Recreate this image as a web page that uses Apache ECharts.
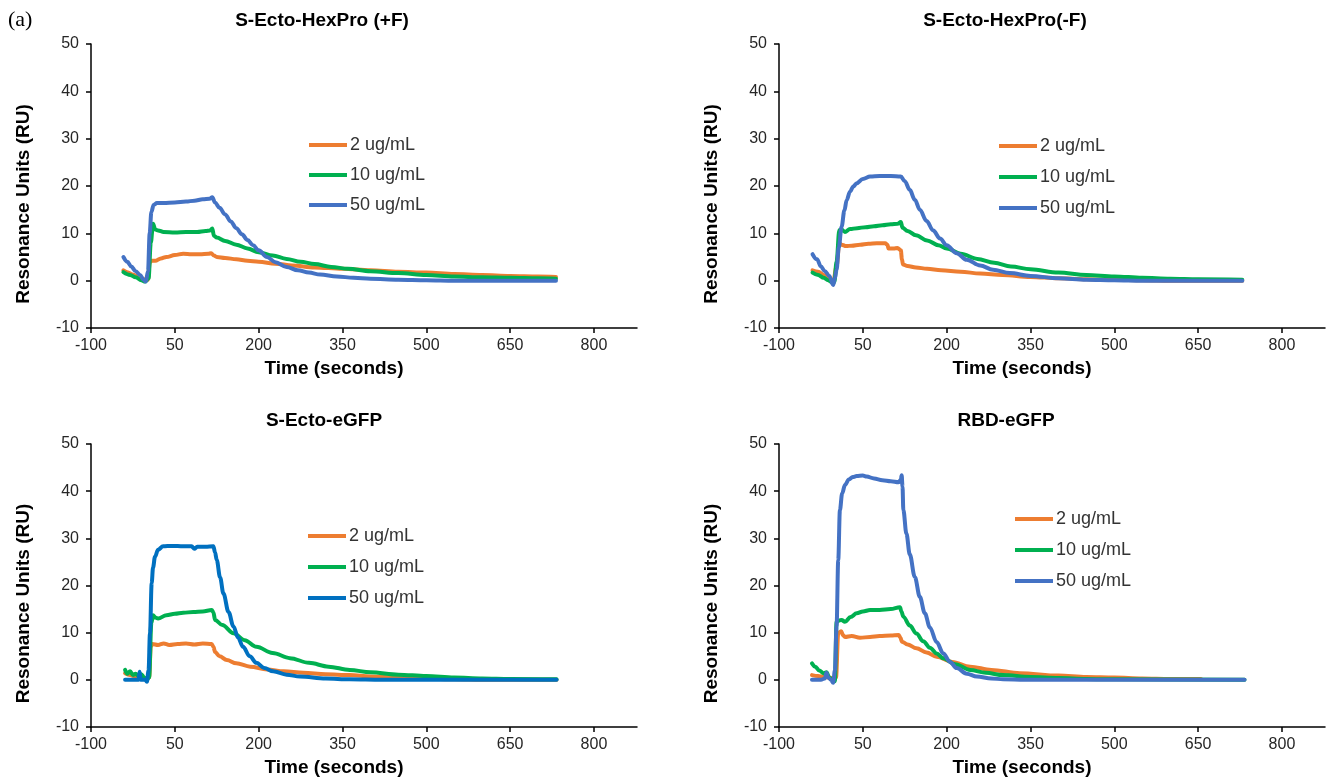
<!DOCTYPE html>
<html>
<head>
<meta charset="utf-8">
<title>SPR binding curves</title>
<script src="https://cdn.jsdelivr.net/npm/echarts@6/dist/echarts.min.js"></script>
<style>
  html, body { margin: 0; padding: 0; background: #fff; }
  #chart { width: 1337px; height: 783px; }
</style>
</head>
<body>
<div id="chart"></div>
<script>
// time ticks and RU ticks
const timeTicks = [-100, 50, 200, 350, 500, 650, 800];
const concentrations = ['2 ug/mL', '10 ug/mL', '50 ug/mL'];
const panelTitles = ['S-Ecto-HexPro (+F)', 'S-Ecto-HexPro(-F)', 'S-Ecto-eGFP', 'RBD-eGFP'];

// [time (s), response (RU)]
const plusF2 = [[-42, 2.2], [-35, 1.8], [-25, 1.3], [-15, 0.8], [-5, 0.3], [2, 0.2], [5, 3.8], [8, 4.2], [15, 4.2], [25, 4.7], [35, 5.0], [50, 5.4], [65, 5.7], [80, 5.6], [95, 5.6], [110, 5.7], [115, 5.8], [120, 5.3], [125, 5.0], [140, 4.8], [160, 4.5], [180, 4.2], [200, 4.0], [230, 3.6], [260, 3.2], [300, 2.8], [350, 2.5], [400, 2.2], [450, 1.9], [500, 1.7], [550, 1.4], [600, 1.2], [650, 1.0], [700, 0.9], [732, 0.8]];
const plusF10 = [[-42, 1.8], [-30, 1.2], [-20, 0.7], [-10, 0.1], [-3, -0.2], [3, 0.5], [7, 8], [11, 12.0], [15, 10.8], [20, 10.6], [30, 10.3], [50, 10.2], [70, 10.3], [90, 10.3], [105, 10.5], [113, 10.6], [117, 11.0], [120, 9.5], [125, 9.1], [140, 8.4], [160, 7.6], [180, 6.8], [200, 6.0], [225, 5.3], [250, 4.6], [275, 4.0], [300, 3.5], [330, 2.9], [360, 2.5], [400, 2.0], [450, 1.6], [500, 1.2], [550, 0.9], [600, 0.7], [650, 0.6], [700, 0.5], [732, 0.4]];
const plusF50 = [[-42, 5.0], [-35, 4.0], [-28, 3.0], [-20, 2.0], [-12, 1.2], [-6, 0.2], [-2, -0.2], [2, 2], [5, 10], [8, 14.5], [12, 16.0], [18, 16.4], [30, 16.4], [50, 16.5], [70, 16.7], [85, 16.9], [100, 17.2], [112, 17.3], [117, 17.6], [122, 16.5], [130, 15.4], [140, 14.0], [150, 12.5], [160, 11.1], [170, 9.8], [180, 8.6], [190, 7.5], [200, 6.4], [215, 5.0], [230, 3.9], [250, 2.9], [270, 2.2], [290, 1.7], [310, 1.3], [340, 0.9], [370, 0.6], [400, 0.4], [450, 0.2], [500, 0.1], [550, 0.0], [732, 0.0]];

const minusF2 = [[-40, 2.2], [-30, 1.9], [-20, 1.2], [-10, 0.5], [-3, -0.2], [3, 3], [8, 7.9], [12, 7.6], [20, 7.3], [30, 7.4], [45, 7.6], [60, 7.8], [75, 7.9], [90, 7.9], [94, 7.6], [96, 6.8], [105, 6.8], [112, 6.9], [118, 6.4], [120, 4.5], [122, 3.4], [130, 3.1], [145, 2.8], [165, 2.5], [190, 2.2], [225, 1.9], [260, 1.5], [300, 1.2], [350, 0.8], [400, 0.5], [450, 0.3], [500, 0.2], [550, 0.1], [600, 0.0], [729, 0.0]];
const minusF10 = [[-40, 1.7], [-30, 1.2], [-20, 0.6], [-12, 0.1], [-5, -0.4], [-1, -0.3], [3, 4], [8, 10.7], [12, 10.8], [18, 10.3], [27, 10.9], [40, 11.1], [55, 11.3], [70, 11.5], [85, 11.7], [100, 11.9], [112, 12.0], [118, 12.4], [121, 11.2], [130, 10.5], [145, 9.6], [165, 8.5], [185, 7.5], [200, 6.8], [225, 5.7], [255, 4.6], [285, 3.8], [315, 3.0], [350, 2.4], [400, 1.7], [450, 1.2], [500, 0.9], [550, 0.6], [600, 0.4], [650, 0.3], [729, 0.2]];
const minusF50 = [[-40, 5.6], [-32, 4.5], [-25, 3.0], [-18, 2.0], [-10, 1.0], [-3, -0.9], [0, 0.5], [3, 2.3], [7, 7], [12, 11.4], [17, 14.8], [21, 17], [27, 18.8], [33, 19.9], [39, 20.6], [50, 21.5], [63, 22], [80, 22.1], [100, 22.1], [118, 22.0], [125, 21.0], [134, 19.2], [143, 17.1], [152, 15.0], [164, 12.6], [176, 10.6], [188, 8.9], [200, 7.5], [218, 5.8], [236, 4.4], [260, 3.2], [283, 2.3], [313, 1.6], [350, 1.0], [400, 0.5], [450, 0.2], [500, 0.1], [550, 0.0], [729, 0.0]];

const ecto2 = [[-39, 1.4], [-30, 1.0], [-20, 0.7], [-10, 0.4], [0, 0.3], [4, 0.5], [7, 7.0], [10, 7.6], [20, 7.4], [30, 7.7], [40, 7.4], [55, 7.6], [70, 7.7], [85, 7.5], [100, 7.7], [116, 7.6], [119, 7.0], [122, 5.9], [130, 5.0], [143, 4.2], [160, 3.5], [185, 2.8], [215, 2.2], [245, 1.8], [280, 1.5], [320, 1.2], [363, 1.0], [400, 0.7], [450, 0.5], [500, 0.3], [550, 0.1], [600, 0.0], [733, 0.0]];
const ecto10 = [[-39, 2.1], [-35, 1.3], [-30, 1.8], [-25, 1.0], [-20, 1.3], [-15, 0.8], [-10, 1.2], [-5, 0.5], [0, 0.0], [4, 0.5], [8, 12], [11, 13.7], [15, 13.2], [20, 13.0], [35, 13.7], [50, 14.0], [65, 14.2], [83, 14.4], [100, 14.5], [116, 14.8], [119, 14.3], [122, 12.7], [135, 11.6], [155, 9.9], [175, 8.4], [196, 7.0], [225, 5.7], [256, 4.6], [290, 3.6], [325, 2.8], [363, 2.1], [400, 1.6], [450, 1.1], [500, 0.8], [550, 0.5], [600, 0.3], [650, 0.2], [733, 0.1]];
const ecto50 = [[-39, 0.0], [-25, 0.0], [-15, 0.0], [-13, 1.7], [-11, 0.0], [-3, 0.0], [0, -0.4], [3, 2], [5.5, 9.8], [8.6, 20.5], [11, 23.8], [14.5, 26.1], [20, 27.6], [29, 28.3], [45, 28.4], [65, 28.3], [80, 28.3], [85, 27.8], [90, 28.2], [105, 28.2], [119, 28.3], [122, 27], [125, 25.4], [131, 21.7], [137, 18.3], [146, 14.4], [155, 11.3], [163, 9.0], [172, 7.0], [184, 5.0], [196, 3.6], [210, 2.5], [226, 1.8], [250, 1.1], [274, 0.7], [320, 0.3], [363, 0.1], [420, 0.0], [733, 0.0]];

const rbd2 = [[-41, 1.0], [-30, 0.8], [-20, 0.6], [-10, 0.5], [-3, 0.3], [2, 0.5], [6, 9.9], [11, 10.3], [15, 9.4], [18, 9.1], [30, 9.3], [45, 8.9], [63, 9.1], [80, 9.3], [100, 9.4], [114, 9.5], [117, 9.0], [120, 8.1], [130, 7.5], [146, 6.7], [164, 5.8], [182, 4.9], [210, 3.8], [242, 2.8], [280, 2.1], [331, 1.4], [400, 0.9], [450, 0.6], [500, 0.5], [550, 0.3], [600, 0.2], [655, 0.2]];
const rbd10 = [[-41, 3.5], [-35, 2.8], [-28, 2.0], [-20, 1.4], [-15, 1.6], [-10, 0.5], [-5, 0.0], [0, -0.3], [3, 12.3], [8, 12.6], [12, 12.7], [18, 12.3], [28, 13.3], [39, 14.1], [50, 14.5], [63, 14.8], [80, 14.8], [100, 15.0], [116.5, 15.4], [119, 14.5], [122.5, 13.4], [134, 11.5], [146, 9.8], [158, 8.2], [170, 6.8], [182, 5.6], [194, 4.6], [215, 3.3], [242, 2.1], [270, 1.5], [301, 1.0], [350, 0.6], [400, 0.4], [450, 0.2], [500, 0.1], [733, 0.0]];
const rbd50 = [[-41, 0.0], [-25, 0.0], [-18, 0.3], [-15, 1.5], [-12, 0.5], [-7, 0.0], [-3, -0.6], [0, 2], [3, 11.3], [6, 25.4], [9, 36], [13, 39.5], [18, 41.3], [25, 42.5], [32, 43.0], [39, 43.2], [50, 43.3], [57, 43.1], [70, 42.7], [85, 42.3], [100, 42.1], [114, 41.9], [118, 42.5], [119.5, 43.4], [121, 41], [122.5, 36], [128, 31], [134, 26.6], [143, 21.8], [152, 17.6], [161, 14.1], [170, 11.1], [182, 8.0], [194, 5.6], [206, 3.8], [218, 2.5], [236, 1.3], [254, 0.7], [280, 0.3], [301, 0.1], [340, 0.0], [733, 0.0]];

const panelData = [
  [plusF2, plusF10, plusF50],
  [minusF2, minusF10, minusF50],
  [ecto2, ecto10, ecto50],
  [rbd2, rbd10, rbd50]
];

const ORANGE = '#ED7D31';
const GREEN = '#00B050';
const panelColors = [
  [ORANGE, GREEN, '#4472C4'],
  [ORANGE, GREEN, '#4472C4'],
  [ORANGE, GREEN, '#0070C0'],
  [ORANGE, GREEN, '#4472C4']
];

const FONT = "'Liberation Sans', Arial, sans-serif";

// layout of the four panels
const grids = [
  { left: 91, top: 44, width: 546, height: 284 },
  { left: 779, top: 44, width: 546, height: 284 },
  { left: 91, top: 444, width: 546, height: 283 },
  { left: 779, top: 444, width: 546, height: 283 }
];
const titlePos = [[322, 11], [1005, 11], [324, 411], [1006, 411]];
const legendPos = [[309, 135, 10], [999, 136, 11], [308, 526, 11], [1015, 509, 11]];

const chart = echarts.init(document.getElementById('chart'));

const titles = panelTitles.map((text, i) => ({
  text,
  left: titlePos[i][0],
  top: titlePos[i][1],
  textAlign: 'center',
  padding: 0,
  textStyle: { fontFamily: FONT, fontSize: 19, fontWeight: 'bold', color: '#000' }
}));
titles.push({
  text: '(a)',
  left: 8,
  top: 9,
  padding: 0,
  textStyle: { fontFamily: "'Liberation Serif', 'DejaVu Serif', serif", fontSize: 22, fontWeight: 'normal', color: '#000' }
});

const xAxes = grids.map((_, i) => ({
  type: 'value',
  gridIndex: i,
  min: -100,
  max: 877,
  name: 'Time (seconds)',
  nameLocation: 'middle',
  nameGap: 31,
  nameTextStyle: { fontFamily: FONT, fontSize: 19, fontWeight: 'bold', color: '#000', padding: [0, 60, 0, 0] },
  axisLine: { onZero: false, lineStyle: { color: '#000', width: 1.5 } },
  axisTick: { show: true, length: 5, customValues: timeTicks, lineStyle: { color: '#000', width: 1.5 } },
  axisLabel: { customValues: timeTicks, margin: 10, fontFamily: FONT, fontSize: 16, color: '#262626' },
  splitLine: { show: false }
}));

const yAxes = grids.map((_, i) => ({
  type: 'value',
  gridIndex: i,
  min: -10,
  max: 50,
  interval: 10,
  name: 'Resonance Units (RU)',
  nameLocation: 'middle',
  nameRotate: 90,
  nameGap: 58,
  nameTextStyle: { fontFamily: FONT, fontSize: 19, fontWeight: 'bold', color: '#000', padding: [0, 36, 0, 0] },
  axisLine: { show: true, onZero: false, lineStyle: { color: '#000', width: 1.5 } },
  axisTick: { show: true, length: 5, lineStyle: { color: '#000', width: 1.5 } },
  axisLabel: { margin: 12, fontFamily: FONT, fontSize: 16, color: '#262626' },
  splitLine: { show: false }
}));

const series = [];
panelData.forEach((lines, i) => {
  lines.forEach((points, j) => {
    series.push({
      name: concentrations[j],
      type: 'line',
      xAxisIndex: i,
      yAxisIndex: i,
      data: points,
      symbol: 'none',
      smooth: 0.35,
      smoothMonotone: 'x',
      lineStyle: { width: 4, color: panelColors[i][j], cap: 'round', join: 'round' },
      itemStyle: { color: panelColors[i][j] },
      z: 2 + j
    });
  });
});

const legends = legendPos.map(([left, top, gap], i) => ({
  orient: 'vertical',
  left,
  top,
  padding: 0,
  itemGap: gap,
  itemWidth: 38,
  itemHeight: 4,
  icon: 'rect',
  selectedMode: false,
  textStyle: { fontFamily: FONT, fontSize: 18, color: '#333', lineHeight: 20, padding: [0, 0, 0, -2] },
  data: concentrations.map((name, j) => ({ name, itemStyle: { color: panelColors[i][j] } }))
}));

chart.setOption({
  animation: false,
  backgroundColor: '#fff',
  title: titles,
  legend: legends,
  grid: grids,
  xAxis: xAxes,
  yAxis: yAxes,
  series
});

window.addEventListener('resize', () => chart.resize());
</script>
</body>
</html>
